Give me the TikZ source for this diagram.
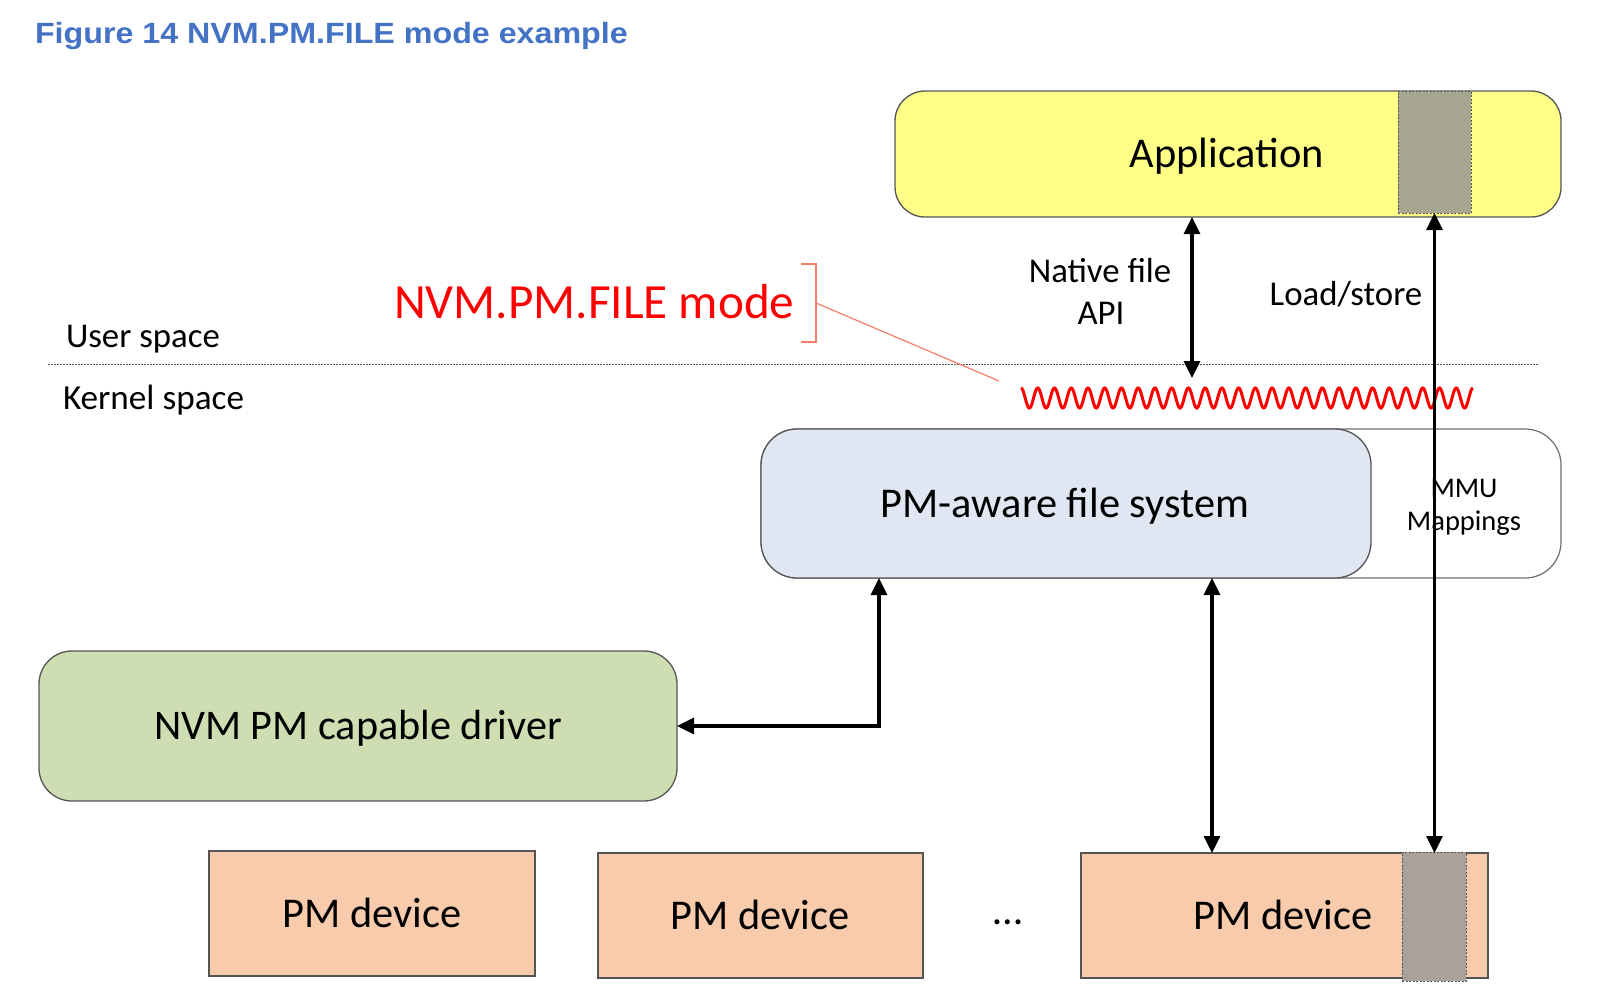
\documentclass[tikz,border=0pt]{standalone}
\usepackage{fontspec}
\usepackage{graphicx}
\setmainfont{Carlito}
\newfontfamily\titlefont{Liberation Sans}
\usetikzlibrary{arrows.meta}
\definecolor{titleblue}{RGB}{68,114,196}
\definecolor{appyellow}{RGB}{255,255,136}
\definecolor{appgreyc}{RGB}{166,166,145}
\definecolor{fsblue}{RGB}{224,230,242}
\definecolor{drvgreen}{RGB}{207,221,179}
\definecolor{devorange}{RGB}{248,203,173}
\definecolor{devgreyc}{RGB}{168,161,156}
\definecolor{salmon}{RGB}{245,125,105}
\definecolor{edgegray}{RGB}{85,85,85}
\tikzset{
  box/.style={draw=edgegray, line width=1.3pt, inner sep=0pt, outer sep=0pt},
  greyblk/.style={draw=edgegray, line width=1pt, dash pattern=on 2pt off 1.5pt, inner sep=0pt, outer sep=0pt},
  txt/.style={inner sep=0pt, outer sep=0pt, anchor=base, text=black},
  dbl/.style={line width=3.2pt, {Triangle[length=17pt,width=16pt]}-{Triangle[length=17pt,width=16pt]}},
  wave/.style={red, line width=3pt},
}
\begin{document}
\begin{tikzpicture}[x=1pt,y=-1pt]
\useasboundingbox (0,0) rectangle (1616,1004);
% title
\node[txt, anchor=base west, text=titleblue] (title) at (35,43)
  {\titlefont\bfseries\fontsize{29.3}{34}\selectfont\scalebox{1.1}[1]{Figure 14 NVM.PM.FILE mode example}};
% user / kernel space
\node[txt, anchor=base west] (user) at (66,347) {\fontsize{34.8}{41}\selectfont User space};
\node[txt, anchor=base west] (kernel) at (63,409) {\fontsize{35.2}{41}\selectfont Kernel space};
\coordinate (dl) at (48,364);
\coordinate (dr) at (1539,364);
\draw[edgegray, line width=1pt, dash pattern=on 1.5pt off 1.5pt] (dl) -- (dr);
% NVM.PM.FILE mode label with bracket
\node[txt, anchor=base west, text=red] (mode) at (394,318) {\fontsize{49.2}{58}\selectfont NVM.PM.FILE mode};
\coordinate (bt) at (801,264);
\coordinate (bb) at (801,342);
\coordinate (brk) at (816,303);
\coordinate (brkend) at (999,381);
\draw[salmon, line width=1.2pt] (bt) -- (bt -| brk) -- (bb -| brk) -- (bb);
\draw[salmon, line width=1.2pt] (brk) -- (brkend);
% application
\node[box, fill=appyellow, rounded corners=30, minimum width=666, minimum height=126] (app) at (1228,154) {};
\node[greyblk, fill=appgreyc, minimum width=73, minimum height=122] (appgrey) at (1434.5,152) {};
\node[txt] (apptxt) at (1227,167) {\fontsize{42.4}{50}\selectfont Application};
% wave
\draw[wave] plot[domain=0:27, samples=811] ({1021+16.74*\x},{398-10*cos(360*\x)});
% labels
\node[txt] (nat1) at (1100,282) {\fontsize{34.8}{42}\selectfont Native file};
\node[txt] (nat2) at (1101,324) {\fontsize{34.8}{42}\selectfont API};
\node[txt] (ls) at (1346,305) {\fontsize{34.8}{42}\selectfont Load/store};
% MMU + file system
\node[draw={rgb,255:red,110;green,110;blue,110}, line width=1.2pt, inner sep=0pt, outer sep=0pt, fill=white, rounded corners=36, minimum width=800, minimum height=149] (mmu) at (1161,503.5) {};
\node[box, fill=fsblue, rounded corners=36, minimum width=610, minimum height=149] (fs) at (1066,503.5) {};
\node[txt] (fstxt) at (1065,517) {\fontsize{42.4}{50}\selectfont PM-aware file system};
\node[txt] (mmu1) at (1464,497) {\fontsize{28.5}{34}\selectfont MMU};
\node[txt] (mmu2) at (1464,530) {\fontsize{28.5}{34}\selectfont Mappings};
% driver
\node[box, fill=drvgreen, rounded corners=33, minimum width=638, minimum height=150] (drv) at (358,726) {};
\node[txt] (drvtxt) at (358,739) {\fontsize{42.2}{50}\selectfont NVM PM capable driver};
% devices
\node[box, fill=devorange, minimum width=326, minimum height=125] (dev1) at (372,913.5) {};
\node[box, fill=devorange, minimum width=325, minimum height=125] (dev2) at (760.5,915.5) {};
\node[box, fill=devorange, minimum width=407, minimum height=125] (dev3) at (1284.5,915.5) {};
\node[greyblk, fill=devgreyc, minimum width=64, minimum height=129] (devgrey) at (1434,916.5) {};
\node[txt] (dev1txt) at (372,927) {\fontsize{42.4}{50}\selectfont PM device};
\node[txt] (dev2txt) at (760,929) {\fontsize{42.4}{50}\selectfont PM device};
\node[txt] (dev3txt) at (1283,929) {\fontsize{42.4}{50}\selectfont PM device};
\node[txt] (dots) at (1008,924) {\fontsize{42}{50}\selectfont …};
% arrows
\coordinate (natend) at (1192,378);
\draw[dbl] (app.south -| natend) -- (natend);
\draw[dbl] (appgrey.south) -- (appgrey.south |- dev3.north);
\coordinate (fsx) at (1212,0);
\draw[dbl] (fs.south -| fsx) -- (dev3.north -| fsx);
\coordinate (drx) at (879,0);
\draw[dbl] (fs.south -| drx) -- (drx |- drv.east) -- (drv.east);
\end{tikzpicture}
\end{document}
